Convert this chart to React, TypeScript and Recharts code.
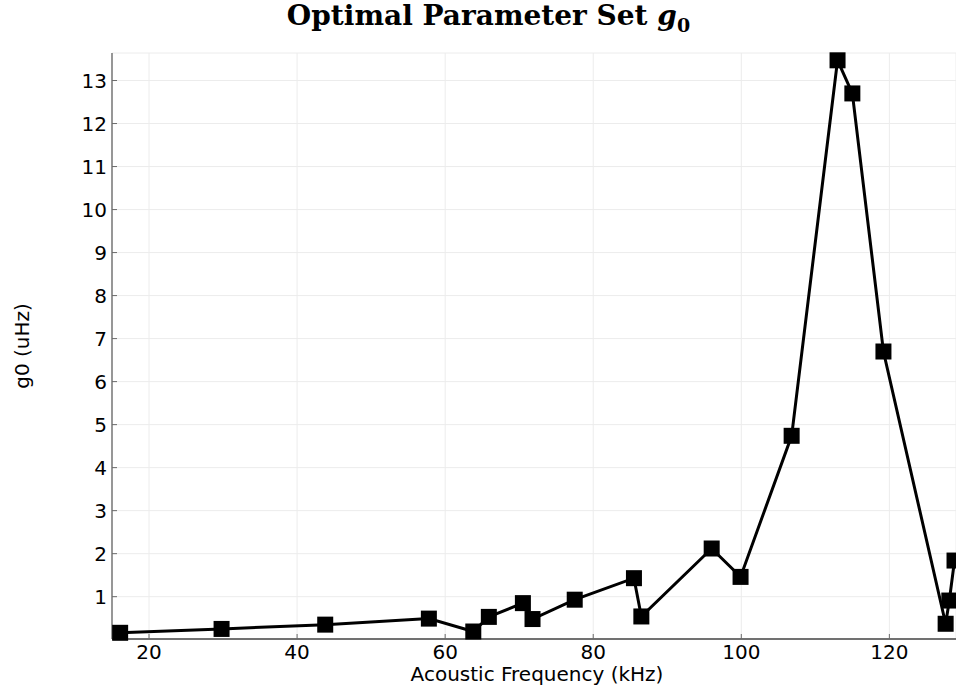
import { LineChart, Line, XAxis, YAxis, CartesianGrid } from 'recharts';

// acoustic frequency (kHz) and fitted g0 (uHz) for each point
const freqs = [
    16.1, 29.8, 43.8, 57.8, 63.8, 65.9, 70.5, 71.8, 77.5, 85.5, 86.5, 96.0, 99.9, 106.8, 113.0,
    115.0, 119.2, 127.6, 128.1, 128.8,
];
const g0 = [
    0.16, 0.25, 0.35, 0.49, 0.19, 0.53, 0.85, 0.48, 0.93, 1.43, 0.54, 2.12, 1.46, 4.74, 13.47,
    12.7, 6.7, 0.37, 0.91, 1.84,
];
const xTicks = [20, 40, 60, 80, 100, 120];
const yTicks = [1, 2, 3, 4, 5, 6, 7, 8, 9, 10, 11, 12, 13];

const data = freqs.map((f, i) => ({ f, g: g0[i] }));

const FONT = '"DejaVu Sans", sans-serif';
const AXIS = '#6b6b6b';

const SquareDot = (props: any) => {
    const { cx, cy, index } = props;
    if (cx == null || cy == null) return null;
    return <rect key={index} x={cx - 8} y={cy - 8} width={16} height={16} fill="#000" />;
};

const BottomTick = (props: any) => {
    const { x, y, payload } = props;
    return (
        <g>
            <line x1={x} y1={y} x2={x} y2={y - 5} stroke={AXIS} strokeWidth={1} />
            <text x={x} y={y + 20} textAnchor="middle" fontFamily={FONT} fontSize={20} fill="#000">
                {payload.value}
            </text>
        </g>
    );
};

const TopTick = (props: any) => {
    const { x, y } = props;
    return <line x1={x} y1={y} x2={x} y2={y + 5} stroke={AXIS} strokeWidth={1} />;
};

const LeftTick = (props: any) => {
    const { x, y, payload } = props;
    return (
        <g>
            <line x1={x} y1={y} x2={x + 5} y2={y} stroke={AXIS} strokeWidth={1} />
            <text x={x - 5} y={y + 7} textAnchor="end" fontFamily={FONT} fontSize={20} fill="#000">
                {payload.value}
            </text>
        </g>
    );
};

export default function App() {
    return (
        <div style={{ position: 'absolute', left: 0, top: 0, width: 956, height: 691, background: '#fff', overflow: 'hidden' }}>
            <div
                style={{
                    position: 'absolute',
                    top: 2,
                    left: 0,
                    width: 977,
                    textAlign: 'center',
                    fontFamily: '"DejaVu Serif", serif',
                    fontWeight: 'bold',
                    fontSize: 28,
                    lineHeight: 1,
                    whiteSpace: 'nowrap',
                }}
            >
                Optimal Parameter Set <i>g</i>
                <sub style={{ fontSize: 19, lineHeight: 0 }}>0</sub>
            </div>
            <div
                style={{
                    position: 'absolute',
                    left: 22,
                    top: 346,
                    transform: 'translate(-50%, -50%) rotate(-90deg)',
                    whiteSpace: 'nowrap',
                    fontFamily: FONT,
                    fontSize: 20,
                }}
            >
                g0 (uHz)
            </div>
            <div
                style={{
                    position: 'absolute',
                    left: 537,
                    top: 674,
                    transform: 'translate(-50%, -50%)',
                    whiteSpace: 'nowrap',
                    fontFamily: FONT,
                    fontSize: 20,
                }}
            >
                Acoustic Frequency (kHz)
            </div>
            <LineChart width={956} height={691} data={data} margin={{ top: 53, right: 0, bottom: 0, left: 0 }}>
                <CartesianGrid stroke="#ececec" strokeWidth={1} />
                <XAxis
                    dataKey="f"
                    type="number"
                    domain={[15, 129]}
                    ticks={xTicks}
                    interval={0}
                    height={52}
                    tickSize={0}
                    tickMargin={0}
                    tickLine={false}
                    tick={<BottomTick />}
                    axisLine={{ stroke: '#444', strokeWidth: 1.5 }}
                />
                <XAxis
                    xAxisId="top"
                    orientation="top"
                    type="number"
                    domain={[15, 129]}
                    ticks={xTicks}
                    interval={0}
                    height={0}
                    tickSize={0}
                    tickMargin={0}
                    tickLine={false}
                    tick={<TopTick />}
                    axisLine={{ stroke: '#888', strokeWidth: 2 }}
                />
                <YAxis
                    type="number"
                    domain={[0.016, 13.64]}
                    ticks={yTicks}
                    interval={0}
                    width={112}
                    tickSize={0}
                    tickMargin={0}
                    tickLine={false}
                    tick={<LeftTick />}
                    axisLine={{ stroke: '#777', strokeWidth: 1.5 }}
                />
                <Line
                    dataKey="g"
                    stroke="#000"
                    strokeWidth={3}
                    dot={<SquareDot />}
                    activeDot={false}
                    isAnimationActive={false}
                />
            </LineChart>
        </div>
    );
}
